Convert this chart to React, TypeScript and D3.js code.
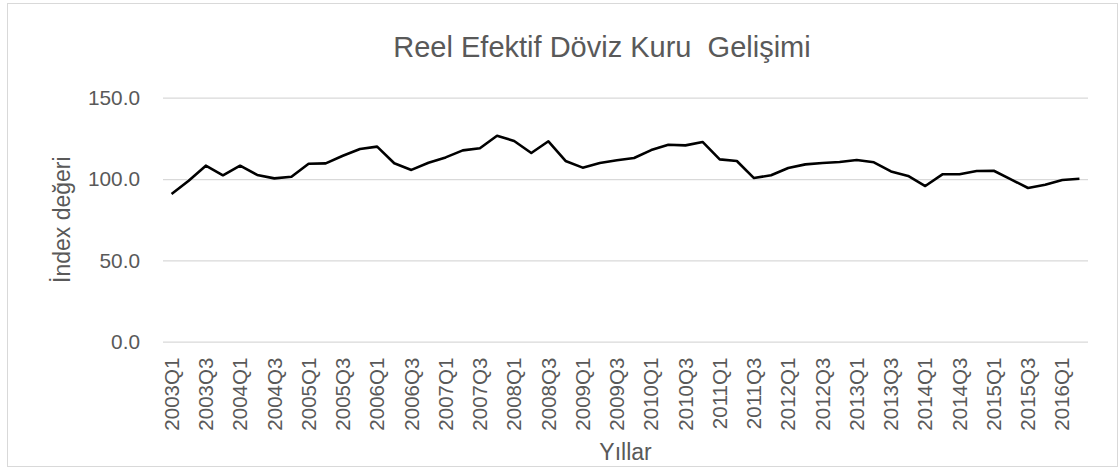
import { useEffect, useRef } from "react";
import * as d3 from "d3";

const years = d3.range(2003, 2017);
const quarters = ["Q1", "Q2", "Q3", "Q4"];
// 2003Q1 .. 2016Q2
const categories = years.flatMap((y) => quarters.map((q) => `${y}${q}`)).slice(0, 54);

const reer = [
  90.8, 99.0, 108.2, 102.3, 108.2, 102.5, 100.4, 101.4, 109.4, 109.6,
  114.3, 118.5, 119.9, 109.7, 105.6, 110.0, 113.3, 117.6, 118.9, 126.6,
  123.4, 116.0, 123.2, 111.1, 107.0, 109.9, 111.5, 112.9, 117.8, 121.1,
  120.7, 122.8, 112.1, 111.1, 100.6, 102.3, 106.8, 109.0, 109.9, 110.5,
  111.7, 110.3, 104.7, 101.9, 95.7, 102.9, 102.9, 104.9, 105.1, 99.8,
  94.5, 96.5, 99.4, 100.2,
];

const yTicks = [0, 50, 100, 150];
const tickLabels = categories.filter((_, i) => i % 2 === 0);

const title = "Reel Efektif Döviz Kuru  Gelişimi";
const xTitle = "Yıllar";
const yTitle = "İndex değeri";

export default function App() {
  const svgRef = useRef<SVGSVGElement>(null);

  useEffect(() => {
    const width = 1120;
    const height = 470;
    const marginTop = 97.7;
    const marginBottom = 470 - 341.7;
    const marginLeft = 163;
    const marginRight = 1120 - 1088;
    const font = "'Liberation Sans', Arial, sans-serif";
    const textColor = "#595959";

    const svg = d3.select(svgRef.current);
    svg.selectAll("*").remove();
    svg.attr("width", width).attr("height", height).attr("viewBox", [0, 0, width, height]);

    // chart area border
    svg.append("rect")
      .attr("x", 7.5)
      .attr("y", 3.5)
      .attr("width", 1110)
      .attr("height", 463)
      .attr("fill", "#fff")
      .attr("stroke", "#d9d9d9")
      .attr("stroke-width", 1);

    const x = d3.scaleBand()
      .domain(categories)
      .range([marginLeft, width - marginRight])
      .padding(0);

    const y = d3.scaleLinear()
      .domain([0, 150])
      .range([height - marginBottom, marginTop]);

    // gridlines + y labels
    const yAxis = svg.append("g")
      .attr("transform", `translate(${marginLeft}, 0)`)
      .call(d3.axisLeft(y).tickValues(yTicks).tickFormat(d3.format(".1f"))
        .tickSize(-(width - marginLeft - marginRight)).tickPadding(23));
    yAxis.select(".domain").remove();
    yAxis.selectAll("line").attr("stroke", "#d9d9d9").attr("stroke-width", 1.3);
    yAxis.selectAll("text")
      .attr("fill", textColor)
      .attr("font-family", font)
      .attr("font-size", 20.8);

    // x axis labels, rotated
    const xAxis = svg.append("g")
      .attr("transform", `translate(0, ${height - marginBottom})`)
      .call(d3.axisBottom(x).tickValues(tickLabels).tickSize(0));
    xAxis.select(".domain").remove();
    xAxis.selectAll("text")
      .attr("fill", textColor)
      .attr("font-family", font)
      .attr("font-size", 20.5)
      .attr("transform", "rotate(-90)")
      .attr("text-anchor", "end")
      .attr("dy", "0.35em")
      .attr("x", -16)
      .attr("y", 0);

    // line
    const line = d3.line<number>()
      .x((_, i) => x(categories[i])! + x.bandwidth() / 2)
      .y((d) => y(d));

    svg.append("path")
      .datum(reer)
      .attr("fill", "none")
      .attr("stroke", "#000")
      .attr("stroke-width", 2.6)
      .attr("stroke-linejoin", "round")
      .attr("d", line);

    // titles
    svg.append("text")
      .attr("x", 602)
      .attr("y", 57)
      .attr("text-anchor", "middle")
      .attr("fill", textColor)
      .attr("font-family", font)
      .attr("font-size", 29)
      .style("white-space", "pre")
      .text(title);

    svg.append("text")
      .attr("x", (marginLeft + width - marginRight) / 2)
      .attr("y", 460)
      .attr("text-anchor", "middle")
      .attr("fill", textColor)
      .attr("font-family", font)
      .attr("font-size", 23)
      .text(xTitle);

    svg.append("text")
      .attr("transform", `translate(70, ${(marginTop + height - marginBottom) / 2}) rotate(-90)`)
      .attr("text-anchor", "middle")
      .attr("fill", textColor)
      .attr("font-family", font)
      .attr("font-size", 23)
      .text(yTitle);
  }, []);

  return <svg ref={svgRef} style={{ position: "absolute", left: 0, top: 0 }} />;
}
